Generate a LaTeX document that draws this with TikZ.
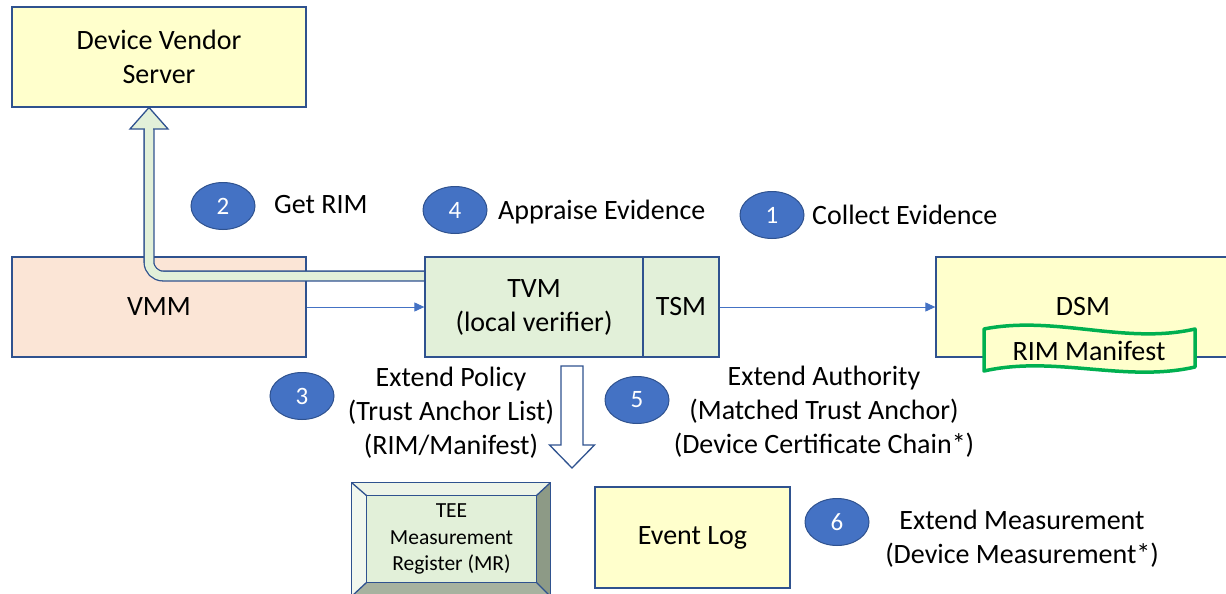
\documentclass[tikz,border=0pt]{standalone}
\usepackage{fontspec}
\setmainfont{Carlito}
\usetikzlibrary{arrows.meta,calc,shapes.geometric}
\definecolor{bord}{HTML}{2F528F}
\definecolor{ylw}{HTML}{FFFFCC}
\definecolor{pch}{HTML}{FBE5D6}
\definecolor{grn}{HTML}{E2F0D9}
\definecolor{cblue}{HTML}{4472C4}
\definecolor{mgreen}{HTML}{00B050}
\definecolor{bevtop}{HTML}{EDF4E8}
\definecolor{bevleft}{HTML}{F1F7EE}
\definecolor{bevright}{HTML}{8D9A86}
\definecolor{bevbot}{HTML}{A7B29F}
\begin{document}
\begin{tikzpicture}[x=1pt,y=-1pt,
 box/.style={draw=bord, line width=1.3pt, inner sep=0pt, align=center, font=\fontsize{28}{34}\selectfont},
 num/.style={ellipse, draw=bord, fill=cblue, line width=1pt, minimum width=64pt, minimum height=47pt, inner sep=0pt, text=white, font=\fontsize{25}{30}\selectfont},
 lbl/.style={inner sep=0pt, align=center, font=\fontsize{28}{34}\selectfont},
 conn/.style={draw=cblue, line width=1pt, -{Triangle[length=10pt,width=9pt]}},
 outl/.style={draw=bord, line width=1.3pt},
]
\useasboundingbox (0,0) rectangle (1226,594);
\clip (0,0) rectangle (1226,594);

% boxes
\node[box, fill=ylw, minimum width=294pt, minimum height=100pt] (dvs) at (159,57) {Device Vendor\\Server};
\node[box, fill=pch, minimum width=294pt, minimum height=100pt] (vmm) at (159,307) {VMM};
\node[box, fill=ylw, minimum width=294pt, minimum height=100pt] (dsm) at (1083,307) {DSM};
\node[box, fill=ylw, minimum width=195pt, minimum height=101pt] (elog) at (692.5,537.5) {Event Log};

% block arrow TVM -> Device Vendor Server
\coordinate (bstart) at (425,276);
\coordinate (bbend) at (149,276);
\coordinate (bhead) at (149,129);
\coordinate (btip) at (149,107.5);
\draw[draw=bord, line width=1.3pt, double=grn, double distance=8.5pt, rounded corners=14pt] (bstart) -- (bbend) -- (bhead);
\draw[outl, fill=grn, line join=miter] ($(bhead)+(-19,0)$) -- (btip) -- ($(bhead)+(19,0)$) -- cycle;
\draw[grn, line width=8.5pt] ($(bhead)+(0,8)$) -- ($(bhead)+(0,-0.8)$);

% TVM / TSM
\node[box, fill=grn, minimum width=218pt, minimum height=100pt] (tvm) at (534,307) {TVM\\(local verifier)};
\node[box, fill=grn, minimum width=76pt, minimum height=100pt] (tsm) at (681,307) {TSM};

% thin arrows
\draw[conn] (vmm.east) -- (tvm.west);
\draw[conn] (tsm.east) -- (dsm.west);

% RIM Manifest wave
\draw[draw=mgreen, line width=3.5pt, fill=ylw, line join=round]
  (984,329) .. controls (1055,315) and (1125,345) .. (1195,329)
  -- (1195,367) .. controls (1125,383) and (1055,355) .. (984,371) -- cycle;
\node[lbl] (rim) at (1089,351) {RIM Manifest};

% down hollow arrow TVM -> TEE
\coordinate (dtop) at (572,366);
\coordinate (dtip) at (572,468);
\draw[outl, fill=white, line join=miter] ($(dtop)+(-11,0)$) -- ($(dtop)+(11,0)$) -- ($(dtop)+(11,79)$) -- ($(dtop)+(22.5,79)$) -- (dtip) -- ($(dtop)+(-22.5,79)$) -- ($(dtop)+(-11,79)$) -- cycle;

% TEE bevel box
\node[inner sep=0pt, minimum width=198pt, minimum height=113pt] (tee) at (451,539.5) {};
\node[inner sep=0pt, minimum width=169pt, minimum height=86pt] (teein) at (451.5,539) {};
\fill[bevtop] (tee.north west) -- (tee.north east) -- (teein.north east) -- (teein.north west) -- cycle;
\fill[bevleft] (tee.north west) -- (teein.north west) -- (teein.south west) -- (tee.south west) -- cycle;
\fill[bevright] (tee.north east) -- (tee.south east) -- (teein.south east) -- (teein.north east) -- cycle;
\fill[bevbot] (tee.south west) -- (teein.south west) -- (teein.south east) -- (tee.south east) -- cycle;
\fill[grn] (teein.north west) rectangle (teein.south east);
\draw[outl] (tee.north west) rectangle (tee.south east);
\draw[outl] (teein.north west) rectangle (teein.south east);
\draw[outl] (tee.north west) -- (teein.north west);
\draw[outl] (tee.north east) -- (teein.north east);
\draw[outl] (tee.south west) -- (teein.south west);
\draw[outl] (tee.south east) -- (teein.south east);
\node[inner sep=0pt, align=center, font=\fontsize{21.5}{26.5}\selectfont] (teetxt) at (451.5,539) {TEE\\Measurement\\Register (MR)};

% numbered circles
\node[num] (c2) at (223,206) {2};
\node[num] (c4) at (455,210) {4};
\node[num] (c1) at (772,215) {1};
\node[num] (c3) at (302,396) {3};
\node[num] (c5) at (637,400) {5};
\node[num] (c6) at (837,522) {6};

% labels
\node[lbl, anchor=base west] (l2) at (274,213) {Get RIM};
\node[lbl, anchor=base west] (l4) at (498,219) {Appraise Evidence};
\node[lbl, anchor=base west] (l1) at (812,224) {Collect Evidence};
\node[lbl] (l3) at (451,413) {Extend Policy\\(Trust Anchor List)\\(RIM/Manifest)};
\node[lbl] (l5) at (824,412) {Extend Authority\\(Matched Trust Anchor)\\(Device Certificate Chain*)};
\node[lbl] (l6) at (1022,539) {Extend Measurement\\(Device Measurement*)};
\end{tikzpicture}
\end{document}
